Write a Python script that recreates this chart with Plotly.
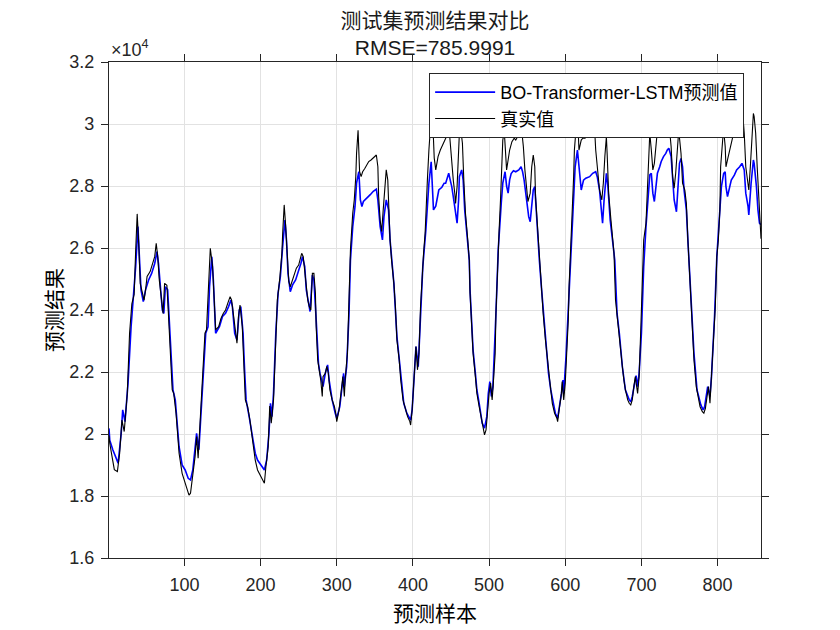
import plotly.graph_objects as go

# ---- data ----
true_idx = [1, 2, 5, 8, 12, 15, 18, 21, 25, 28, 31, 34, 36, 38, 40, 42, 45, 47, 49, 51, 55, 58, 61, 63, 65, 67, 70, 72, 74, 77,
            79, 82, 84, 86, 89, 91, 93, 97, 100, 103, 106, 108, 111, 114, 116, 118, 121, 124, 127, 129, 132, 134, 137, 139,
            141, 145, 148, 151, 154, 157, 160, 162, 164, 167, 169, 171, 173, 176, 178, 180, 183, 186, 190, 193, 196, 200,
            203, 205, 207, 210, 212, 214, 217, 219, 222, 225, 228, 229, 231, 233, 235, 237, 239, 241, 243, 245, 247, 250,
            252, 254, 256, 258, 260, 262, 264, 266, 268, 270, 272, 273, 275, 277, 279, 281, 282, 285, 287, 289, 291, 294,
            297, 299, 300, 303, 305, 308, 310, 311, 314, 316, 318, 321, 323, 325, 326, 328, 329, 330, 332, 334, 337, 340,
            342, 345, 347, 350, 352, 354, 355, 357, 359, 361, 364, 365, 367, 368, 370, 372, 374, 375, 377, 379, 382, 384,
            387, 390, 393, 396, 397, 399, 401, 403, 404, 406, 408, 410, 412, 414, 416, 418, 419, 421, 423, 425, 427, 428,
            430, 433, 436, 440, 442, 444, 447, 448, 450, 453, 455, 456, 458, 460, 461, 463, 465, 467, 469, 472, 474, 475,
            477, 479, 482, 484, 487, 490, 492, 494, 496, 498, 500, 502, 504, 505, 508, 509, 511, 513, 515, 517, 518, 520,
            521, 523, 525, 527, 530, 533, 535, 538, 540, 543, 545, 547, 549, 551, 554, 556, 558, 560, 561, 564, 566, 568,
            571, 574, 576, 578, 581, 583, 586, 589, 590, 592, 595, 596, 598, 600, 602, 604, 605, 607, 609, 611, 612, 614,
            616, 618, 621, 623, 626, 629, 633, 636, 638, 640, 643, 645, 648, 650, 652, 654, 655, 657, 660, 662, 664, 666,
            668, 671, 673, 675, 677, 679, 682, 684, 686, 688, 690, 692, 695, 697, 699, 701, 703, 706, 708, 710, 711, 713,
            715, 717, 719, 721, 723, 727, 732, 736, 739, 741, 743, 745, 747, 749, 752, 754, 757, 759, 761, 764, 767, 769,
            772, 775, 777, 780, 782, 784, 786, 788, 790, 791, 794, 797, 799, 801, 803, 804, 807, 808, 810, 811, 813, 816,
            818, 820, 822, 825, 827, 831, 833, 835, 837, 840, 841, 843, 845, 847, 848, 850, 852, 854, 856, 857]
true_val = [19950, 19700, 19270, 18850, 18790, 19380, 20450, 20080, 21300, 23250, 24200, 24500, 25900, 27100, 26150, 24860,
            24540, 24320, 24650, 25080, 25240, 25500, 25720, 26150, 25720, 24970, 24320, 23890, 24860, 24800, 23890, 22390,
            21420, 21310, 20670, 20030, 19380, 18730, 18520, 18300, 18030, 18090, 18630, 19270, 19920, 19220, 20560, 21960,
            23250, 23360, 24750, 25990, 25400, 24110, 23360, 23460, 23730, 23890, 24000, 24220, 24430, 24320, 23890, 23250,
            22930, 23790, 24160, 23460, 22170, 21100, 20880, 20450, 19700, 19160, 18840, 18650, 18520, 18410, 18950, 19590,
            20900, 20350, 21100, 22390, 24320, 24970, 25830, 26470, 27390, 26690, 25610, 24920, 24750, 24920, 25080, 25180,
            25350, 25450, 25610, 25830, 25720, 25180, 24750, 24320, 24110, 24000, 25180, 25180, 24540, 23460, 22390, 22070,
            21740, 21210, 21850, 21960, 22180, 21960, 21420, 21100, 20880, 20620, 20400, 20780, 21310, 21850, 21210, 21740,
            22600, 24110, 25940, 27120, 27550, 28300, 29050, 29800, 29050, 28460, 28300, 28460, 28570, 28680, 28790, 28840,
            28890, 28950, 29000, 28620, 27660, 26900, 26530, 27230, 28090, 28520, 28190, 27340, 26260, 25610, 25180, 24860,
            24110, 23030, 22390, 21740, 21100, 20780, 20560, 20400, 20290, 20780, 21530, 22390, 22820, 22070, 22600, 24110,
            25180, 25830, 26470, 27340, 28190, 29160, 30020, 30600, 29500, 28900, 28520, 28950, 29160, 29380, 29480, 29590,
            29750, 29700, 29050, 28190, 27760, 27440, 27980, 29160, 29700, 29790, 29380, 28090, 27120, 26260, 25610, 24540,
            23460, 22600, 21850, 21310, 20880, 20450, 20190, 19970, 20130, 20780, 21310, 21640, 21100, 21420, 22600, 23890,
            25400, 26470, 27550, 28620, 29480, 29750, 29160, 28520, 28840, 29160, 29430, 29540, 29480, 29590, 29700, 29750,
            29270, 28520, 27980, 27500, 27770, 28620, 29000, 28620, 27660, 26470, 25610, 24750, 23890, 23030, 22500, 21960,
            21420, 20990, 20670, 20510, 20400, 20780, 21310, 21690, 21100, 21640, 22600, 23680, 24750, 25830, 27010, 28300,
            29160, 29800, 30400, 29160, 29480, 29540, 29540, 29650, 29750, 29750, 30100, 29160, 28300, 27870, 27550, 28090,
            28950, 29590, 29050, 27760, 26900, 26370, 25830, 24320, 23790, 23250, 22600, 22170, 21740, 21420, 21100, 20990,
            20940, 21100, 21530, 21850, 21310, 21850, 23250, 24860, 26260, 26800, 28090, 29160, 29700, 29160, 28520, 28730,
            29380, 29800, 30100, 30200, 30300, 30100, 29270, 28300, 27930, 28410, 29160, 29800, 29050, 28090, 27870, 27440,
            26260, 24750, 23250, 22390, 21530, 21100, 20880, 20720, 20670, 20830, 21210, 21530, 20990, 21420, 22600, 24110,
            25720, 26260, 27230, 28620, 29590, 29800, 29270, 28620, 28840, 29160, 29480, 29590, 29800, 29910, 30020, 30130,
            30340, 29700, 28620, 28090, 27870, 28620, 29700, 30340, 30240, 29700, 28620, 27550, 26470, 26300]

pred_idx = [1, 2, 6, 11, 13, 17, 19, 22, 26, 30, 33, 36, 39, 41, 43, 46, 49, 53, 57, 61, 64, 66, 69, 71, 73, 75, 78, 80, 83,
            85, 88, 91, 93, 97, 101, 105, 108, 111, 114, 116, 119, 122, 125, 128, 131, 133, 136, 138, 141, 146, 150, 154,
            158, 161, 163, 166, 169, 172, 174, 177, 179, 181, 185, 190, 193, 196, 201, 205, 208, 211, 213, 215, 217, 220,
            223, 226, 229, 232, 234, 236, 239, 242, 246, 249, 253, 255, 258, 260, 263, 265, 268, 270, 273, 276, 278, 282,
            285, 288, 290, 294, 298, 300, 304, 307, 309, 310, 313, 316, 318, 321, 324, 326, 329, 331, 333, 335, 340, 344,
            348, 352, 354, 357, 360, 362, 365, 368, 370, 373, 375, 379, 384, 388, 392, 397, 399, 402, 404, 407, 410, 413,
            417, 419, 421, 424, 427, 430, 432, 434, 438, 441, 443, 446, 447, 449, 451, 453, 455, 457, 458, 460, 461, 464,
            466, 468, 471, 474, 475, 477, 479, 482, 484, 487, 491, 494, 497, 499, 501, 503, 505, 509, 512, 516, 518, 521,
            523, 525, 527, 529, 532, 535, 539, 542, 544, 546, 549, 552, 554, 556, 558, 560, 561, 564, 566, 569, 572, 575,
            578, 581, 584, 587, 590, 592, 595, 597, 598, 601, 604, 607, 611, 613, 616, 618, 621, 624, 627, 632, 636, 640,
            642, 645, 647, 649, 651, 653, 654, 656, 659, 662, 665, 668, 671, 675, 679, 684, 686, 688, 690, 693, 695, 697,
            700, 703, 706, 709, 711, 713, 715, 717, 719, 721, 724, 726, 729, 732, 734, 736, 739, 741, 743, 746, 748, 750,
            752, 754, 756, 759, 761, 765, 769, 773, 778, 781, 783, 787, 790, 792, 796, 799, 802, 805, 808, 810, 811, 813,
            816, 818, 822, 825, 829, 832, 835, 837, 840, 841, 844, 847, 848, 851, 853, 855, 857]
pred_val = [20180, 19800, 19490, 19160, 19060, 20020, 20780, 20400, 21640, 23460, 24320, 25400, 26690, 25610, 24650, 24270,
            24650, 24970, 25180, 25500, 25880, 25500, 24750, 24000, 23890, 24750, 24650, 23680, 22170, 21420, 21100, 20130,
            19590, 19000, 18840, 18570, 18520, 18840, 19590, 20020, 19490, 20670, 22170, 23250, 23460, 24750, 25720, 24970,
            23250, 23460, 23790, 23890, 24110, 24320, 24110, 23250, 23030, 24000, 24110, 23250, 22070, 21100, 20560, 19800,
            19380, 19160, 19000, 18840, 19160, 20020, 20990, 20560, 21310, 23250, 24540, 25080, 26050, 26900, 26260, 25180,
            24590, 24810, 24970, 25180, 25510, 25720, 25400, 24650, 24220, 23950, 25130, 24970, 23680, 22280, 21960, 21530,
            21960, 22230, 21740, 21100, 20670, 20510, 20880, 21530, 21960, 21530, 22170, 23790, 25610, 26690, 27340, 28090,
            28460, 27550, 27340, 27500, 27610, 27720, 27830, 27900, 27550, 26690, 26260, 27010, 27550, 27230, 26260, 25400,
            24860, 23140, 21850, 20990, 20670, 20450, 20780, 21850, 22820, 22170, 23680, 25400, 26580, 27550, 28090, 28780,
            27230, 27350, 27660, 27870, 27960, 28090, 28090, 28300, 28410, 28190, 27980, 27660, 27340, 26900, 26800, 27550,
            28300, 28520, 28190, 27230, 26370, 25610, 24650, 23570, 22710, 21960, 21420, 20990, 20350, 20190, 20560, 21310,
            21690, 21210, 21530, 23890, 25940, 27450, 28090, 28460, 28000, 27770, 28200, 28400, 28490, 28460, 28520, 28620,
            28460, 28190, 27550, 27010, 26850, 27340, 27870, 27980, 27550, 26470, 25610, 24650, 23790, 22920, 21960, 21420,
            20990, 20670, 20510, 20780, 21310, 21740, 21310, 22490, 24000, 25940, 27550, 28620, 29160, 28620, 27870, 28190,
            28250, 28300, 28410, 28460, 28300, 27870, 27230, 26800, 27550, 28090, 28410, 27980, 26900, 26260, 25610, 23890,
            23250, 22170, 21420, 21100, 21040, 21210, 21530, 21880, 21530, 21960, 23250, 25400, 26690, 27770, 28360, 28410,
            27770, 27500, 27980, 28410, 28620, 28790, 28950, 29050, 29160, 29220, 28950, 28190, 27550, 27170, 27880, 28730,
            28890, 28620, 27870, 27230, 26260, 24430, 22600, 21420, 20940, 20780, 20880, 21530, 21210, 21850, 23790, 25720,
            27010, 27980, 28410, 28460, 27980, 27660, 27980, 28190, 28350, 28520, 28620, 28730, 28520, 27770, 27340, 27070,
            28090, 28840, 28730, 27980, 27230, 26800, 26750]

x_tick_vals = [100, 200, 300, 400, 500, 600, 700, 800]
y_tick_vals = [16000, 18000, 20000, 22000, 24000, 26000, 28000, 30000, 32000]
y_tick_text = ["1.6", "1.8", "2", "2.2", "2.4", "2.6", "2.8", "3", "3.2"]

pred_name = "BO-Transformer-LSTM预测值"
true_name = "真实值"
title_line1 = "测试集预测结果对比"
title_line2 = "RMSE=785.9991"
x_label = "预测样本"
y_label = "预测结果"

FONT = "Liberation Sans, Arial, Noto Sans CJK SC, sans-serif"
CJK = "Noto Sans CJK SC, sans-serif"
AX = "#262626"

fig = go.Figure()
fig.add_trace(go.Scatter(x=pred_idx, y=pred_val, mode="lines", name=pred_name,
                         line=dict(color="#0000ff", width=1.6)))
fig.add_trace(go.Scatter(x=true_idx, y=true_val, mode="lines", name=true_name,
                         line=dict(color="#000000", width=1.1)))

axis_common = dict(ticks="outside", ticklen=7, tickwidth=1.2, tickcolor=AX,
                   showline=True, linecolor=AX, linewidth=1.3, mirror="ticks",
                   showgrid=True, gridcolor="#e2e2e2", gridwidth=1, zeroline=False,
                   automargin=False,
                   tickfont=dict(family=FONT, size=18, color=AX))

# the page body has an 8px margin, so the figure is slightly smaller than the window
fig.update_layout(
    width=832, height=622,
    margin=dict(l=101, r=79, t=54, b=72, autoexpand=False),
    paper_bgcolor="white", plot_bgcolor="white",
    font=dict(family=FONT, color=AX),
    title=dict(text=title_line1 + "<br>" + title_line2,
               xref="paper", x=0.5, xanchor="center",
               yref="container", y=1 - 20.0 / 622, yanchor="middle",
               font=dict(family=FONT, size=21, color="#1a1a1a")),
    xaxis=dict(range=[1, 857], tickvals=x_tick_vals, ticklabelstandoff=3,
               title=dict(text=x_label, standoff=12,
                          font=dict(family=CJK, size=21, color="#000000")),
               **axis_common),
    yaxis=dict(range=[16000, 32000], tickvals=y_tick_vals, ticktext=y_tick_text,
               ticklabelstandoff=3,
               title=dict(text=y_label, standoff=0,
                          font=dict(family=CJK, size=21, color="#000000")),
               **axis_common),
    legend=dict(x=0.491, y=0.978, xanchor="left", yanchor="top",
                bgcolor="white", bordercolor=AX, borderwidth=1,
                font=dict(family=FONT, size=18, color="#000000"),
                itemwidth=60, tracegroupgap=0),
    showlegend=True,
    annotations=[
        dict(text="×10<sup>4</sup>", xref="paper", yref="paper", x=0.0, y=1.0,
             xanchor="left", yanchor="bottom", showarrow=False,
             font=dict(family=FONT, size=18, color=AX)),
    ],
)

fig.write_html("out.html")
